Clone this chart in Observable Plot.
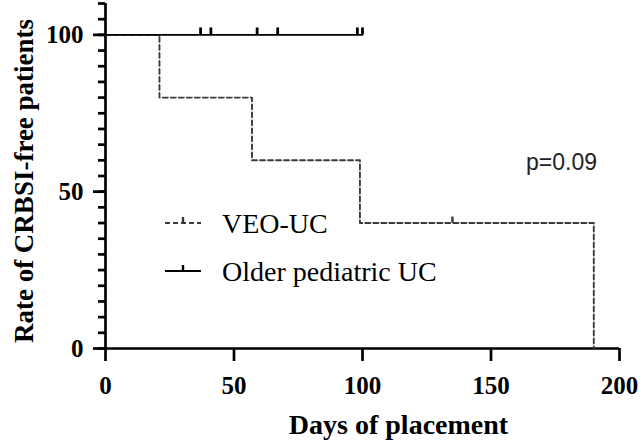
<!DOCTYPE html>
<html>
<head>
<meta charset="utf-8">
<script src="https://cdn.jsdelivr.net/npm/d3@7"></script>
<script src="https://cdn.jsdelivr.net/npm/@observablehq/plot@0.6"></script>
<style>
  html, body { margin: 0; padding: 0; background: white; }
  #chart { position: relative; width: 644px; height: 445px; }
</style>
</head>
<body>
<div id="chart"></div>
<script>
// Kaplan–Meier data (days, % CRBSI-free)
const veoDays  = [0, 21, 57, 99, 190];
const veoRates = [100, 80, 60, 40, 0];
const veoCensorDays = [135];
const veoCensorRates = [40];

const olderDays  = [0, 100];
const olderRates = [100, 100];
const olderCensorDays = [37, 41, 59, 67, 98, 100];
const olderCensorRates = [100, 100, 100, 100, 100, 100];

const xTicks = [0, 50, 100, 150, 200];
const yMajorTicks = [0, 50, 100];
const yMinorTicks = d3.range(0, 111, 5);

const seriesNames = ["VEO-UC", "Older pediatric UC"];
const pLabel = "p=0.09";
const xTitle = "Days of placement";
const yTitle = "Rate of CRBSI-free patients";

const veo = veoDays.map((d, i) => ({day: d, rate: veoRates[i]}));
const older = olderDays.map((d, i) => ({day: d, rate: olderRates[i]}));
const veoCens = veoCensorDays.map((d, i) => ({day: d, rate: veoCensorRates[i]}));
const olderCens = olderCensorDays.map((d, i) => ({day: d, rate: olderCensorRates[i]}));

const serif = "'Liberation Serif', 'Times New Roman', serif";
const veoColor = "#3a3a3a";

const plot = Plot.plot({
  width: 644,
  height: 445,
  marginLeft: 105,
  marginRight: 25,
  marginTop: 3,
  marginBottom: 97,
  x: {domain: [0, 200]},
  y: {domain: [0, 110]},
  style: {fontFamily: serif, background: "white", color: "black", overflow: "visible"},
  marks: [
    Plot.axisY({ticks: yMinorTicks, tickSize: 7, text: null, label: null, strokeWidth: 2.7}),
    Plot.axisY({ticks: yMajorTicks, tickSize: 12, tickPadding: 10, fontSize: 25, fontWeight: "bold", label: null, strokeWidth: 2.7}),
    Plot.axisX({ticks: xTicks, tickSize: 13, tickPadding: 15, fontSize: 25, fontWeight: "bold", label: null, strokeWidth: 2.7}),
    Plot.ruleX([0], {y1: 0, y2: 110, strokeWidth: 2.7}),
    Plot.ruleY([0], {x1: 0, x2: 200, strokeWidth: 2.7}),
    Plot.line(veo, {x: "day", y: "rate", curve: "step-after", stroke: veoColor, strokeWidth: 1.9, strokeDasharray: "5,3"}),
    Plot.ruleX(veoCens, {x: "day", y1: "rate", y2: d => d.rate + 1.9, stroke: veoColor, strokeWidth: 2.4}),
    Plot.line(older, {x: "day", y: "rate", stroke: "black", strokeWidth: 1.9}),
    Plot.ruleX(olderCens, {x: "day", y1: "rate", y2: d => d.rate + 2.2, stroke: "black", strokeWidth: 2.8}),
    Plot.text([yTitle], {frameAnchor: "left", rotate: -90, dx: -81, dy: 5, fontSize: 27, fontWeight: "bold", textAnchor: "middle", lineAnchor: "middle"}),
    Plot.text([xTitle], {frameAnchor: "bottom", dx: 36, dy: 77, fontSize: 28, fontWeight: "bold", textAnchor: "middle", lineAnchor: "middle"})
  ]
});

document.getElementById("chart").appendChild(plot);

// Legend and annotation
const svg = d3.select(plot);
const leg = svg.append("g").attr("text-anchor", "start");
const legendRows = [
  {name: seriesNames[0], y: 223, dash: "5,3", color: veoColor},
  {name: seriesNames[1], y: 271, dash: null, color: "black"}
];
legendRows.forEach(r => {
  leg.append("line").attr("x1", 165).attr("x2", 201).attr("y1", r.y).attr("y2", r.y)
    .attr("stroke", r.color).attr("stroke-width", 1.9).attr("stroke-dasharray", r.dash);
  leg.append("line").attr("x1", 183).attr("x2", 183).attr("y1", r.y).attr("y2", r.y - 6)
    .attr("stroke", r.color).attr("stroke-width", 2.4);
  leg.append("text").attr("x", 222).attr("y", r.y).attr("dy", "0.36em")
    .attr("text-anchor", "start")
    .attr("font-family", serif).attr("font-size", 28).attr("fill", "black").text(r.name);
});
svg.append("text").attr("x", 526).attr("y", 162).attr("dy", "0.36em")
  .attr("text-anchor", "start")
  .attr("font-family", "'Liberation Sans', Arial, sans-serif").attr("font-size", 23)
  .attr("fill", "#222").text(pLabel);
</script>
</body>
</html>
